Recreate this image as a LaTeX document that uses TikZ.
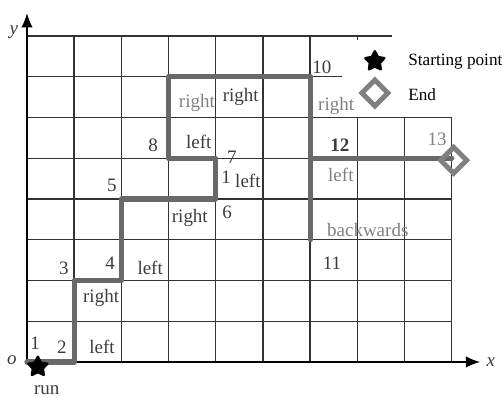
\documentclass[tikz,border=0pt]{standalone}
\usepackage{fontspec}
\setmainfont{Liberation Serif}
\usetikzlibrary{arrows.meta,shapes.geometric}
\definecolor{pathgray}{RGB}{105,105,105}
\definecolor{textgray}{RGB}{60,60,60}
\tikzset{
  gridline/.style = {draw=black!80, line width=0.7pt},
  axis/.style     = {-{Latex[length=2.5mm,width=2mm]}, line width=0.7pt},
  route/.style    = {draw=pathgray, line width=2.6pt, line cap=round, line join=round},
  lab/.style      = {inner sep=0pt, text=textgray, font=\fontsize{9.5}{11}\selectfont},
  faint/.style    = {lab, text=black!50},
  legtext/.style  = {inner sep=0pt, anchor=west, font=\fontsize{8.6}{10}\selectfont},
  startmark/.style= {star, star points=5, star point ratio=1.9, draw=black, fill=black,
                     line width=1.2pt, line join=round, inner sep=0pt, minimum size=10pt},
  endmark/.style  = {diamond, draw=black!50, line width=2.5pt, inner sep=0pt, minimum size=14pt},
}

\begin{document}
\begin{tikzpicture}[x=23.6pt, y=20.375pt]
      \useasboundingbox (-0.572,-0.883) rectangle (10.085,8.883);
      % grid
      \foreach \c in {1,...,6} \draw[gridline] (\c,0) -- (\c,8);
      \foreach \c in {7,8,9} \draw[gridline] (\c,0) -- (\c,6);
      \foreach \r in {1,...,6} \draw[gridline] (0,\r) -- (9,\r);
      \draw[gridline] (0,7) -- (6.67,7);
      \draw[gridline] (0,8) -- (7.73,8);
      \draw[gridline] (7,8) -- (7,7.9);
      % axes
      \draw[axis] (0,0) -- (9.6,0);
      \draw[axis] (0,0) -- (0,8.56);
      \node[lab, font=\fontsize{9.5}{11}\selectfont\itshape] (xlab) at (9.83,0) {x};
      \node[lab, font=\fontsize{9.5}{11}\selectfont\itshape] (ylab) at (-0.28,8.1) {y};
      \node[lab, font=\fontsize{9.5}{11}\selectfont\itshape] (olab) at (-0.32,0.05) {o};
      % route
      \draw[route] (0,0) -- (1,0) -- (1,2) -- (2,2) -- (2,4) -- (4,4) -- (4,5)
                   -- (3,5) -- (3,7) -- (6,7) -- (6,3);
      \draw[route] (6,5) -- (9,5);
      % start and end
      \node[startmark] (start) at (0.23,-0.12) {};
      \node[lab] (run) at (0.42,-0.69) {run};
      \node[endmark] (finish) at (9.04,4.95) {};
      % labels along the way
      \node[lab] (n1)  at (0.17,0.47) {1};
      \node[lab] (n2)  at (0.74,0.37) {2};
      \node[lab] (l1)  at (1.59,0.37) {left};
      \node[lab] (r1)  at (1.57,1.57) {right};
      \node[lab] (n3)  at (0.78,2.31) {3};
      \node[lab] (n4)  at (1.76,2.43) {4};
      \node[lab] (l2)  at (2.61,2.31) {left};
      \node[lab] (n5)  at (1.80,4.34) {5};
      \node[lab] (r2)  at (3.45,3.53) {right};
      \node[lab] (n6)  at (4.24,3.68) {6};
      \node[lab] (n7)  at (4.34,5.03) {7};
      \node[lab] (n1b) at (4.22,4.54) {1};
      \node[lab] (l3)  at (4.68,4.44) {left};
      \node[lab] (n8)  at (2.67,5.33) {8};
      \node[lab] (l4)  at (3.64,5.40) {left};
      \node[faint] (r3) at (3.60,6.36) {right};
      \node[lab] (r4)  at (4.53,6.50) {right};
      \node[lab] (n10) at (6.25,7.24) {10};
      \node[faint] (r5) at (6.55,6.28) {right};
      \node[lab] (n12) at (6.63,5.33) {\textbf{12}};
      \node[faint] (n13) at (8.69,5.47) {13};
      \node[faint] (l5) at (6.65,4.59) {left};
      \node[faint] (back) at (7.22,3.24) {backwards};
      \node[lab] (n11) at (6.46,2.43) {11};
      % legend
      \node[startmark] (legstart) at (7.37,7.38) {};
      \node[legtext] (legstarttxt) at (8.07,7.38) {Starting point};
      \node[endmark] (legend) at (7.37,6.60) {};
      \node[legtext] (legendtxt) at (8.07,6.55) {End};
    \end{tikzpicture}
\end{document}
